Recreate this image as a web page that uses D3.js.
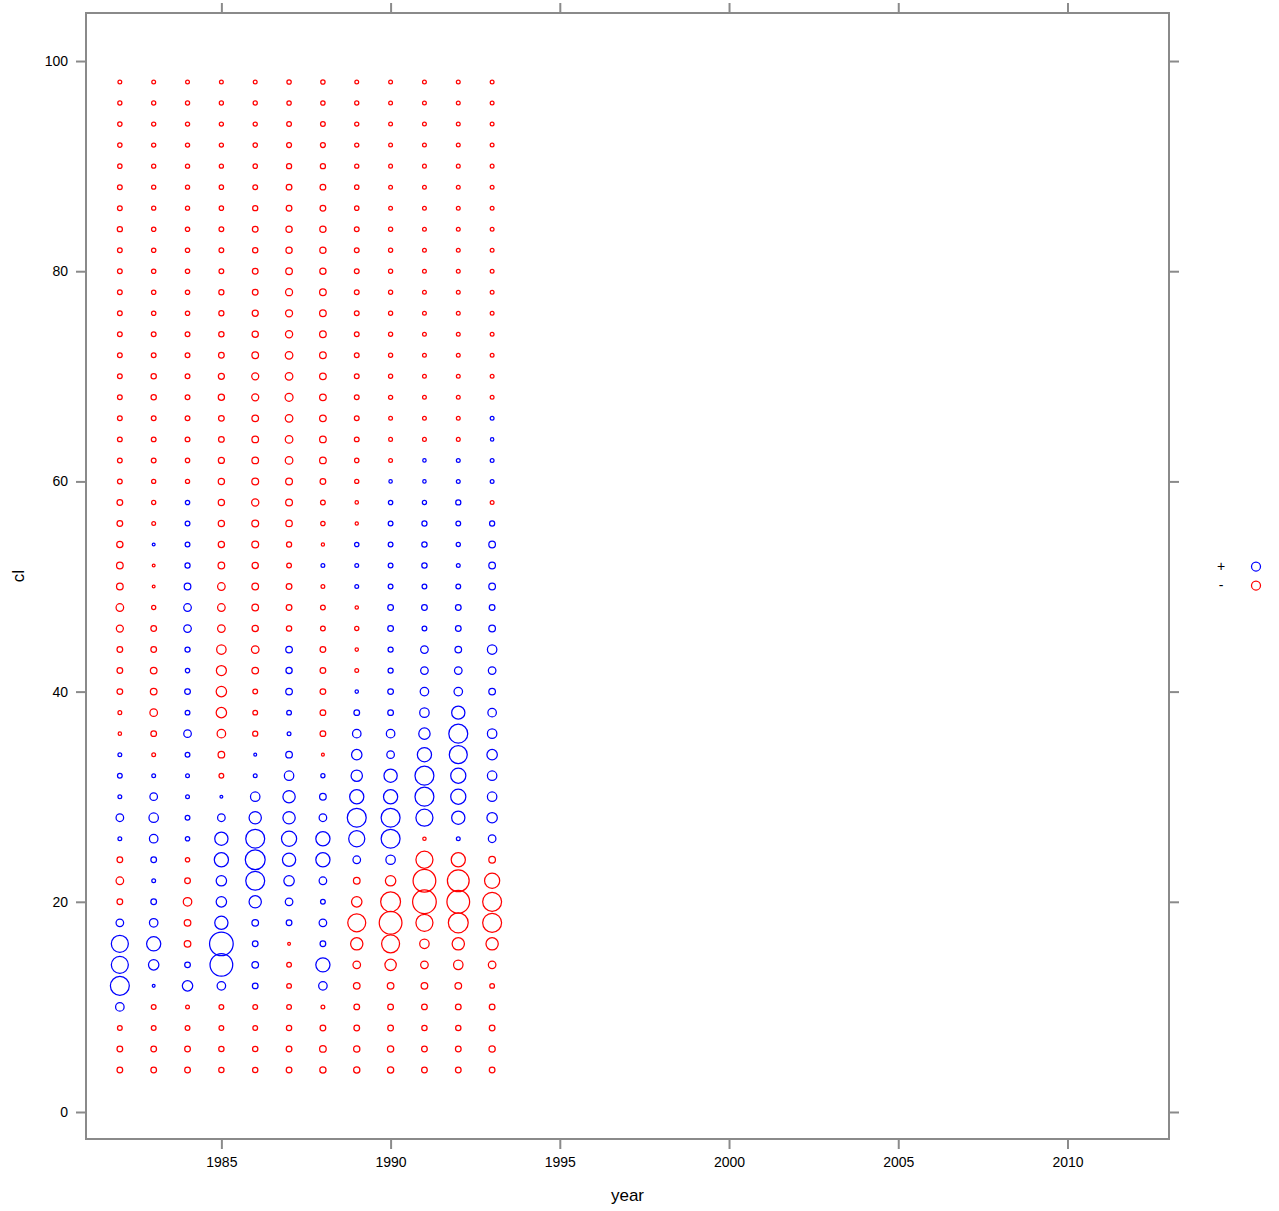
<!DOCTYPE html>
<html>
<head>
<meta charset="utf-8">
<script src="https://cdn.jsdelivr.net/npm/d3@7"></script>
<style>
  html, body { margin: 0; padding: 0; background: #fff; }
  svg text { font-family: "Liberation Sans", Arial, Helvetica, sans-serif; fill: #000; }
</style>
</head>
<body>
<svg id="chart" width="1279" height="1211"></svg>
<script>
// ---- data ----
const years = [1982, 1983, 1984, 1985, 1986, 1987, 1988, 1989, 1990, 1991, 1992, 1993];
const clLevels = [98, 96, 94, 92, 90, 88, 86, 84, 82, 80, 78, 76, 74, 72, 70, 68, 66, 64, 62, 60,
                  58, 56, 54, 52, 50, 48, 46, 44, 42, 40, 38, 36, 34, 32, 30, 28, 26, 24, 22, 20,
                  18, 16, 14, 12, 10, 8, 6, 4];
// signed residuals per cl level (rows) and year (columns); + drawn blue, - drawn red
const residuals = [
  [-2,-2,-2,-2,-2,-2.3,-2.3,-2,-2,-2,-2,-2],
  [-2.2,-2.2,-2.2,-2.2,-2.2,-2.3,-2.3,-2.2,-2,-2,-2,-2],
  [-2.3,-2.2,-2.2,-2.2,-2.2,-2.5,-2.5,-2.2,-2,-2,-2,-2],
  [-2.3,-2.2,-2.2,-2.2,-2.3,-2.6,-2.6,-2.2,-2,-2,-2,-2],
  [-2.3,-2.2,-2.2,-2.2,-2.3,-2.7,-2.7,-2.2,-2,-2,-2,-2],
  [-2.5,-2.2,-2.2,-2.3,-2.5,-3,-3,-2.3,-2,-2,-2,-2],
  [-2.5,-2.2,-2.2,-2.3,-2.7,-3,-3,-2.3,-2,-2,-2,-2],
  [-2.7,-2.3,-2.3,-2.5,-3,-3.3,-3.3,-2.5,-2.2,-2,-2,-2],
  [-2.5,-2.3,-2.3,-2.5,-2.8,-3.3,-3.3,-2.5,-2.2,-2,-2,-2],
  [-2.5,-2.3,-2.3,-2.5,-3,-3.5,-3.3,-2.5,-2.2,-2,-2,-2],
  [-2.5,-2.3,-2.3,-2.7,-3,-3.7,-3.5,-2.5,-2.2,-2,-2,-2],
  [-2.5,-2.3,-2.3,-2.7,-3.2,-3.7,-3.5,-2.5,-2.2,-2,-2,-2],
  [-2.5,-2.5,-2.5,-2.8,-3.3,-3.8,-3.5,-2.5,-2.2,-2,-2,-2],
  [-2.5,-2.5,-2.5,-3,-3.5,-4,-3.5,-2.5,-2.2,-2,-2,-2],
  [-2.5,-2.8,-2.5,-3.2,-3.7,-4,-3.5,-2.5,-2.2,-2,-2,-2],
  [-2.5,-2.8,-2.5,-3.3,-3.7,-4.2,-3.5,-2.5,-2.2,-2,-2,-2],
  [-2.5,-2.5,-2.5,-3,-3.5,-4,-3.5,-2.5,-2,-2,-2,2],
  [-2.5,-2.5,-2.5,-3,-3.5,-4,-3.5,-2.5,-2,-2,-2,1.8],
  [-2.5,-2.5,-2.3,-3.2,-3.5,-4,-3.5,-2.3,-2,1.8,2,2],
  [-2.5,-2.2,-2.2,-3.3,-3.6,-3.6,-3,-2.2,1.8,1.8,2,2],
  [-3,-2.2,2.3,-3.3,-3.8,-3.6,-2.5,-1.8,2.3,2.2,2.7,-2],
  [-3,-2,2.5,-3.3,-3.6,-3.4,-2.3,-1.7,2.5,2.7,2.5,2.7],
  [-3.3,1.5,2.5,-3.3,-3.6,-2.7,-1.7,2.3,2.5,2.8,2.2,3.5],
  [-3.5,-1.5,2.7,-3.5,-3.3,-2.5,2,2,2.5,2.8,2,3.5],
  [-3.5,-1.5,3.5,-4,-3.5,-3,-2,2,2.5,2.5,2.5,3.5],
  [-4,-2.2,4,-4,-3.5,-3,-2.5,-1.8,3,3,3,3],
  [-3.7,-3,4,-4,-3.3,-2.8,-2.5,-2.2,3,2.5,3,3.5],
  [-3,-3,2.7,-5,-4,3.5,-3,-1.8,2.7,4,3.5,5],
  [-3,-3.5,2.3,-5.3,-3.5,3.3,-3,-2,2.7,4,4,4],
  [-3,-3.5,3,-5.5,-2.5,3.5,-3,1.8,3,4.5,4.5,3.5],
  [-2,-4,2.5,-5.5,-2.5,2.5,-3,3,3,5,7,4.5],
  [-1.8,-3,4,-4.5,-2.7,2,-3,4.5,4.5,6,10,5],
  [2,-2,2.5,-3.5,1.5,3.5,-1.5,5.5,4,7.5,9.5,5.5],
  [2.5,2,2,-2.5,2,5,2.2,6,7,10,8,5],
  [2,4,2,1.5,5,6.5,3.5,7.5,7.5,10,8,5],
  [4,5,2.5,4,6.5,6.5,4,10,10,9,7,5.5],
  [2,4.5,2.3,7,10,8,7.5,8.5,10,-1.8,2,4],
  [-3,3,-2.3,7.5,10.5,7,7.5,4,5,-9,-7.5,-3.5],
  [-4,2,-3,5.5,10,5.5,4,-3.5,-5.5,-12,-11.5,-8],
  [-3,3,-4.5,5.5,6.5,4,2.5,-5.5,-10.5,-12.5,-12,-10],
  [4,4.5,-3.5,7,3.5,3,4,-9.5,-12,-9,-10.5,-10],
  [9,7.5,-3.5,12.5,3,-1.5,3,-6.5,-9.5,-5,-6.5,-6.5],
  [9,5.5,3,12,3.5,-2.5,7.5,-4,-6,-4,-5,-4],
  [10,1.5,5.5,4.5,3,-2.5,4.5,-3.5,-3.5,-3.5,-3.5,-2.5],
  [4.5,-2.5,-2,-2.5,-2.5,-2.5,-2,-3,-3,-3,-3,-3],
  [-2.5,-2.5,-2.5,-2.5,-2.5,-2.8,-3,-3,-3,-2.8,-2.8,-3],
  [-3,-3,-3,-2.8,-2.8,-3,-3.5,-3.3,-3.3,-3,-3,-3.3],
  [-3,-3,-3,-2.8,-2.8,-3,-3.3,-3.3,-3.3,-3,-3,-3]
];
const xTicks = [1985, 1990, 1995, 2000, 2005, 2010];
const yTicks = [0, 20, 40, 60, 80, 100];
const legendLabels = ["+", "-"];
const signColors = ["#0000ff", "#ff0000"];

// ---- layout ----
const svg = d3.select("#chart");
const L = 86, R = 1169, T = 13, B = 1139;
const x = d3.scaleLinear().domain([1981, 2013]).range([L, R]);
const y = d3.scaleLinear().domain([-2.57, 104.57]).range([B, T]);
const rScale = d3.scaleLinear().domain([0, 13]).range([0, 12.3]);
const frameColor = "#8a8a8a";

const points = [];
clLevels.forEach((cl, i) => years.forEach((yr, j) => {
  points.push({ year: yr, cl: cl, v: residuals[i][j] });
}));

svg.append("g").selectAll("circle").data(points).join("circle")
  .attr("cx", d => x(d.year))
  .attr("cy", d => y(d.cl))
  .attr("r", d => rScale(Math.abs(d.v)))
  .attr("fill", "none")
  .attr("stroke", d => d.v >= 0 ? signColors[0] : signColors[1])
  .attr("stroke-width", 1.25);

// axes
const tk = 10;
const axBottom = d3.axisBottom(x).tickValues(xTicks).tickFormat(d3.format("d")).tickSizeInner(tk).tickSizeOuter(0).tickPadding(8);
const axTop = d3.axisTop(x).tickValues(xTicks).tickFormat("").tickSizeInner(tk).tickSizeOuter(0);
const axLeft = d3.axisLeft(y).tickValues(yTicks).tickFormat(d3.format("d")).tickSizeInner(tk).tickSizeOuter(0).tickPadding(8);
const axRight = d3.axisRight(y).tickValues(yTicks).tickFormat("").tickSizeInner(tk).tickSizeOuter(0);

function style(g) {
  g.select(".domain").remove();
  g.selectAll(".tick line").attr("stroke", frameColor).attr("stroke-width", 2);
  g.selectAll(".tick text").attr("font-size", 14).attr("fill", "#111")
    .attr("font-family", "'Liberation Sans', Arial, sans-serif");
}
svg.append("g").attr("transform", `translate(0,${B})`).call(axBottom).call(style);
svg.append("g").attr("transform", `translate(0,${T})`).call(axTop).call(style);
svg.append("g").attr("transform", `translate(${L},0)`).call(axLeft).call(style);
svg.append("g").attr("transform", `translate(${R},0)`).call(axRight).call(style);

// frame
svg.append("rect").attr("x", L).attr("y", T).attr("width", R - L).attr("height", B - T)
  .attr("fill", "none").attr("stroke", frameColor).attr("stroke-width", 2);

// axis titles
svg.append("text").attr("x", (L + R) / 2).attr("y", 1201).attr("text-anchor", "middle")
  .attr("font-size", 17).attr("fill", "#111").text("year");
svg.append("text").attr("transform", `translate(24,${(T + B) / 2}) rotate(-90)`)
  .attr("text-anchor", "middle").attr("font-size", 17).attr("fill", "#111").text("cl");

// legend
const lg = svg.append("g");
legendLabels.forEach((lab, i) => {
  const yy = 566.5 + i * 19;
  lg.append("text").attr("x", 1221).attr("y", yy).attr("dy", "0.35em")
    .attr("text-anchor", "middle").attr("font-size", 14).attr("fill", "#111").text(lab);
  lg.append("circle").attr("cx", 1256).attr("cy", yy).attr("r", 4.5)
    .attr("fill", "none").attr("stroke", signColors[i]).attr("stroke-width", 1.25);
});
</script>
</body>
</html>
